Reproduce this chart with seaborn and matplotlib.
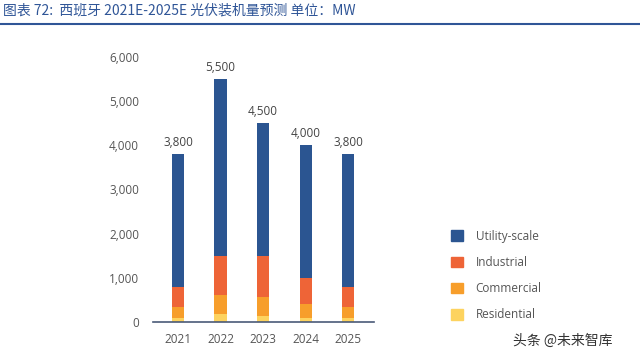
import numpy as np
import pandas as pd
import matplotlib
matplotlib.use("Agg")
import matplotlib.pyplot as plt
import matplotlib.patches as mpatches
import seaborn as sns

# Data (MW)
years = ["2021", "2022", "2023", "2024", "2025"]
totals = [3800, 5500, 4500, 4000, 3800]
residential = [100, 180, 130, 100, 90]
commercial = [250, 420, 440, 300, 250]
industrial = [450, 900, 930, 600, 460]
utility = [t - r - c - i for t, r, c, i in zip(totals, residential, commercial, industrial)]

series_names = ["Utility-scale", "Industrial", "Commercial", "Residential"]
colors = ["#2B5591", "#EE6437", "#F79E2B", "#FDD35F"]

# cumulative heights so the stack can be drawn top layer first
df = pd.DataFrame({"year": years, "Residential": residential, "Commercial": commercial,
                   "Industrial": industrial, "Utility-scale": utility})
df["cum_res"] = df["Residential"]
df["cum_com"] = df["cum_res"] + df["Commercial"]
df["cum_ind"] = df["cum_com"] + df["Industrial"]
df["cum_util"] = df["cum_ind"] + df["Utility-scale"]

sns.set_style("white")
plt.rcParams["font.family"] = ["Open Sans", "DejaVu Sans"]

fig = plt.figure(figsize=(6.4, 3.62), dpi=100)
ax = fig.add_axes([0.239, 0.1105, 0.345, 0.7325])

for col, color in zip(["cum_util", "cum_ind", "cum_com", "cum_res"], colors):
    sns.barplot(data=df, x="year", y=col, color=color, width=0.29, ax=ax,
                saturation=1, linewidth=0)

for i, t in enumerate(totals):
    ax.text(i, t + 110, f"{t:,}", ha="center", va="bottom", fontsize=8.5, color="#444444")

ax.set_ylim(0, 6000)
ax.set_xlim(-0.59, 4.6)
ax.set_yticks(range(0, 6001, 1000))
ax.set_yticklabels([f"{v:,}" for v in range(0, 6001, 1000)])
ax.set_xlabel("")
ax.set_ylabel("")
ax.tick_params(axis="both", length=0, labelsize=8.5, colors="#555555")
ax.tick_params(axis="y", pad=10)
ax.tick_params(axis="x", pad=8)
for s in ["top", "right", "left"]:
    ax.spines[s].set_visible(False)
ax.spines["bottom"].set_color("#4A5A78")
ax.spines["bottom"].set_linewidth(1.2)

# legend
handles = [mpatches.Patch(color=c, label=n) for n, c in zip(series_names, colors)]
fig.legend(handles=handles, loc="upper left", bbox_to_anchor=(0.688, 0.395),
           frameon=False, fontsize=8.5, handlelength=1.0, handleheight=1.0,
           labelspacing=1.12, handletextpad=1.1, labelcolor="#555555")

# title and rule
fig.text(0.005, 0.972, "图表 72:  西班牙 2021E-2025E 光伏装机量预测 单位：MW",
         family=["Noto Sans CJK SC", "DejaVu Sans"], style="italic",
         fontsize=10, color="#2F5597", ha="left", va="center")
fig.add_artist(plt.Line2D([0, 1], [0.934, 0.934], color="#2F5597", linewidth=1.5,
                          transform=fig.transFigure))

# watermark
fig.text(0.802, 0.06, "头条 @未来智库", family=["Noto Sans CJK SC", "DejaVu Sans"],
         fontsize=10, color="#333333", ha="left", va="center")

fig.savefig("out.png", dpi=100)
